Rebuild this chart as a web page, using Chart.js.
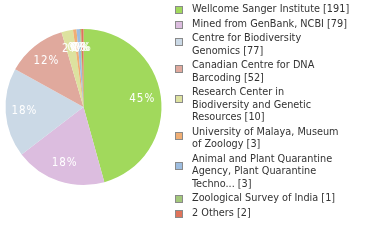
<!DOCTYPE html>
<html lang="en">
<head>
    <meta charset="UTF-8">
    <title>Institutions pie</title>
    <script src="https://cdn.jsdelivr.net/npm/chart.js"></script>
    <style>
        html, body { margin: 0; padding: 0; background: #fff; }
        #wrap { width: 380px; height: 240px; }
    </style>
</head>
<body>
    <div id="wrap"><canvas id="pieChart" width="380" height="240"></canvas></div>
    <script>
        const categories = [
            'Wellcome Sanger Institute',
            'Mined from GenBank, NCBI',
            'Centre for Biodiversity Genomics',
            'Canadian Centre for DNA Barcoding',
            'Research Center in Biodiversity and Genetic Resources',
            'University of Malaya, Museum of Zoology',
            'Animal and Plant Quarantine Agency, Plant Quarantine Techno...',
            'Zoological Survey of India',
            '2 Others'
        ];
        const counts = [191, 79, 77, 52, 10, 3, 3, 1, 2];
        const colors = ['#a1d95c', '#dcbddf', '#cbd9e6', '#e0a99d', '#dde29f',
                        '#f0ae74', '#9dbde0', '#a3c87b', '#e0735a'];

        const FONT = '10.8px "DejaVu Sans Condensed", "DejaVu Sans", sans-serif';
        const LABEL_FONT = '11.5px "DejaVu Sans Condensed", "DejaVu Sans", sans-serif';
        const total = counts.reduce((a, b) => a + b, 0);

        // wrap the name at ~28 chars, then put the count on the last line
        function wrapName(name, count) {
            const words = name.split(' ');
            const lines = [];
            let cur = '';
            words.forEach(w => {
                const next = cur ? cur + ' ' + w : w;
                if (next.length > 28 && cur) {
                    lines.push(cur);
                    cur = w;
                } else {
                    cur = next;
                }
            });
            lines.push(cur + ' [' + count + ']');
            return lines;
        }

        const sliceLabels = {
            id: 'sliceLabels',
            afterDatasetsDraw(chart) {
                const ctx = chart.ctx;
                const arcs = chart.getDatasetMeta(0).data;
                ctx.save();
                ctx.font = LABEL_FONT;
                ctx.letterSpacing = '1px';
                ctx.fillStyle = '#fff';
                ctx.textAlign = 'center';
                ctx.textBaseline = 'middle';
                arcs.forEach((arc, i) => {
                    const mid = (arc.startAngle + arc.endAngle) / 2;
                    const r = arc.outerRadius * 0.76;
                    const pct = Math.floor(counts[i] / total * 100) + '%';
                    ctx.fillText(pct, arc.x + Math.cos(mid) * r, arc.y + Math.sin(mid) * r);
                });
                ctx.restore();
            }
        };

        const sideLegend = {
            id: 'sideLegend',
            afterDraw(chart) {
                const ctx = chart.ctx;
                ctx.save();
                ctx.font = FONT;
                ctx.textBaseline = 'alphabetic';
                ctx.textAlign = 'left';
                const lh = 12.5;
                let y = 12;
                categories.forEach((name, i) => {
                    const lines = wrapName(name, counts[i]);
                    const sq = y - 2 + (lines.length - 1) * 3;
                    ctx.fillStyle = colors[i];
                    ctx.fillRect(175, Math.round(sq - 4), 8, 8);
                    ctx.strokeStyle = '#8a8a8a';
                    ctx.lineWidth = 1;
                    ctx.strokeRect(175.5, Math.round(sq - 4) + 0.5, 7, 7);
                    ctx.fillStyle = '#333';
                    lines.forEach((t, k) => ctx.fillText(t, 192, Math.round(y + k * lh)));
                    y += lines.length * lh + 2;
                });
                ctx.restore();
            }
        };

        const chart = new Chart(document.getElementById('pieChart'), {
            type: 'pie',
            data: {
                labels: categories,
                datasets: [{
                    data: counts,
                    backgroundColor: colors,
                    borderWidth: 0
                }]
            },
            options: {
                responsive: false,
                animation: false,
                layout: { padding: { left: 5, top: 29, right: 218, bottom: 55 } },
                plugins: {
                    legend: { display: false },
                    tooltip: { enabled: false }
                }
            },
            plugins: [sliceLabels, sideLegend]
        });
    </script>
</body>
</html>
